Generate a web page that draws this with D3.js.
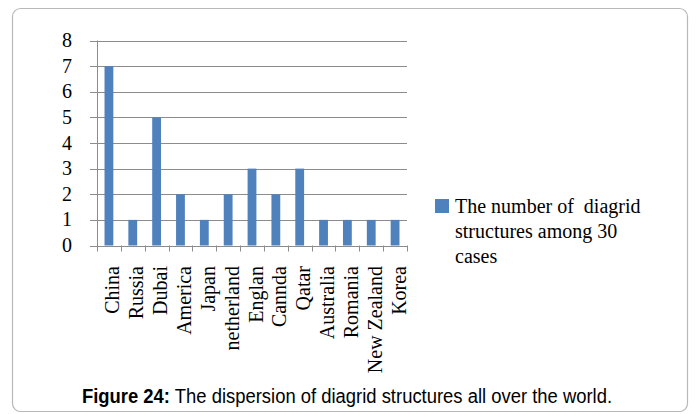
<!DOCTYPE html>
<html>
<head>
<meta charset="utf-8">
<script src="https://cdn.jsdelivr.net/npm/d3@7"></script>
<style>
	body { margin: 0; background: #fff; }
	svg { display: block; }
</style>
</head>
<body>
<svg></svg>
<script>
'use strict'

let countries = ['China', 'Russia', 'Dubai', 'America', 'Japan', 'netherland', 'Englan',
	'Cannda', 'Qatar', 'Australia', 'Romania', 'New Zealand', 'Korea']
let counts = [7, 1, 5, 2, 1, 2, 3, 2, 3, 1, 1, 1, 1]
let yTicks = [0, 1, 2, 3, 4, 5, 6, 7, 8]
let legendLines = ['The number of  diagrid', 'structures among 30', 'cases']

let width = 696,
	height = 414

let svg = d3.select('svg')
	.attr('width', width)
	.attr('height', height)

// outer frame
svg.append('rect')
	.attr('x', 12.5).attr('y', 8.5)
	.attr('width', 675).attr('height', 403)
	.attr('rx', 8)
	.attr('fill', 'none')
	.attr('stroke', '#b8b8b8')
	.attr('stroke-width', 1.2)

let plotLeft = 97, plotRight = 407, plotTop = 40.5, plotBottom = 245.5

let x = d3.scaleBand()
	.domain(countries)
	.range([plotLeft, plotRight])
	.paddingInner(0.63)
	.paddingOuter(0.315)

let xTicks = d3.scaleBand().domain(countries).range([plotLeft, plotRight])

let y = d3.scaleLinear()
	.domain([0, 8])
	.range([plotBottom, plotTop])

let serif = '"Liberation Serif", "Times New Roman", serif'

// gridlines + y ticks
svg.append('g')
	.selectAll('line')
	.data(yTicks)
	.enter().append('line')
	.attr('x1', plotLeft - 7)
	.attr('x2', plotRight)
	.attr('y1', function(d) { return Math.round(y(d)) + 0.5 })
	.attr('y2', function(d) { return Math.round(y(d)) + 0.5 })
	.attr('stroke', '#8c8c8c')
	.attr('stroke-width', 1)

svg.append('g')
	.selectAll('text')
	.data(yTicks)
	.enter().append('text')
	.attr('x', 72)
	.attr('y', function(d) { return y(d) })
	.attr('dy', '0.33em')
	.attr('text-anchor', 'end')
	.style('font-family', serif)
	.style('font-size', '20px')
	.text(function(d) { return d })

// y axis line
svg.append('line')
	.attr('x1', plotLeft + 0.5).attr('x2', plotLeft + 0.5)
	.attr('y1', plotTop).attr('y2', plotBottom + 1)
	.attr('stroke', '#8c8c8c')

// x tick marks
let tickPos = countries.map(function(c) { return xTicks(c) }).concat([plotRight])
svg.append('g')
	.selectAll('line')
	.data(tickPos)
	.enter().append('line')
	.attr('x1', function(d) { return Math.round(d) + 0.5 })
	.attr('x2', function(d) { return Math.round(d) + 0.5 })
	.attr('y1', plotBottom)
	.attr('y2', plotBottom + 6)
	.attr('stroke', '#8c8c8c')

// bars
svg.append('g')
	.selectAll('rect')
	.data(countries)
	.enter().append('rect')
	.attr('x', function(d) { return x(d) })
	.attr('y', function(d, i) { return y(counts[i]) })
	.attr('width', x.bandwidth())
	.attr('height', function(d, i) { return y(0) - y(counts[i]) })
	.attr('fill', '#4f81bd')

// x labels
svg.append('g')
	.selectAll('text')
	.data(countries)
	.enter().append('text')
	.attr('transform', function(d) {
		return 'translate(' + (xTicks(d) + xTicks.bandwidth() / 2 + 10.5) + ',266) rotate(-90)'
	})
	.attr('text-anchor', 'end')
	.style('font-family', serif)
	.style('font-size', '20px')
	.text(function(d) { return d })

// legend
svg.append('rect')
	.attr('x', 435).attr('y', 199)
	.attr('width', 14).attr('height', 14)
	.attr('fill', '#4f81bd')

svg.append('g')
	.selectAll('text')
	.data(legendLines)
	.enter().append('text')
	.attr('x', 455)
	.attr('y', function(d, i) { return 213 + i * 25 })
	.style('font-family', serif)
	.style('font-size', '20px')
	.style('white-space', 'pre')
	.text(function(d) { return d })

// caption (slightly condensed like the original figure)
let cap = svg.append('text')
	.attr('transform', 'translate(347,403) scale(0.945,1)')
	.attr('text-anchor', 'middle')
	.style('font-family', '"Liberation Sans", Arial, sans-serif')
	.style('font-size', '19.5px')
cap.append('tspan').style('font-weight', 'bold').text('Figure 24:')
cap.append('tspan').text(' The dispersion of diagrid structures all over the world.')
</script>
</body>
</html>
